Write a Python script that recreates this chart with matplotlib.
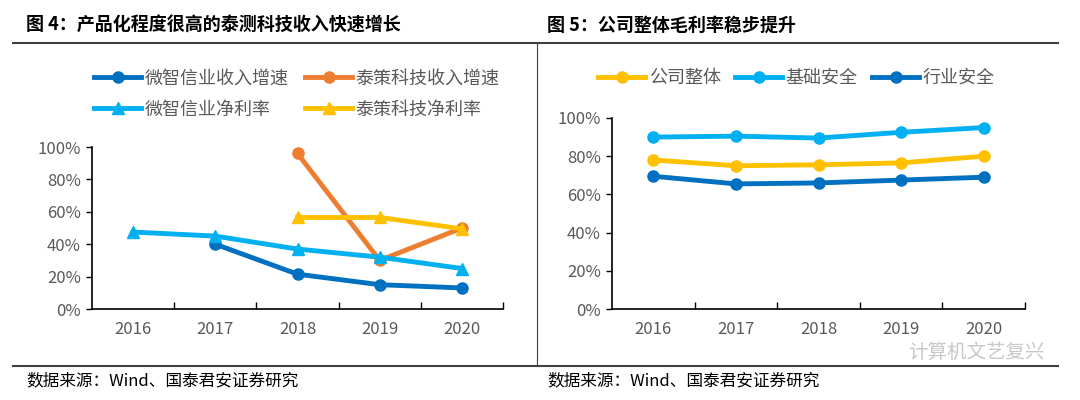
import numpy as np
import matplotlib.pyplot as plt
from matplotlib.lines import Line2D

plt.rcParams['font.family'] = ['Noto Sans CJK SC', 'DejaVu Sans']

years = ['2016', '2017', '2018', '2019', '2020']
nan = np.nan

# left chart (图4)
wz_rev = [nan, 0.40, 0.215, 0.15, 0.13]
tc_rev = [nan, nan, 0.96, 0.30, 0.50]
wz_margin = [0.475, 0.45, 0.37, 0.32, 0.25]
tc_margin = [nan, nan, 0.565, 0.565, 0.495]

# right chart (图5)
company = [0.78, 0.75, 0.755, 0.765, 0.80]
basic_sec = [0.90, 0.905, 0.895, 0.925, 0.95]
industry_sec = [0.695, 0.655, 0.66, 0.675, 0.69]

DARK = '#0070C0'
ORANGE = '#ED7D31'
LIGHT = '#00B0F0'
GOLD = '#FFC000'
GRAY = '#595959'

W, H = 1080, 400
fig = plt.figure(figsize=(10.8, 4.0), dpi=100)


def px_axes(x0, y_top, x1, y_bot):
    return fig.add_axes([x0 / W, 1 - y_bot / H, (x1 - x0) / W, (y_bot - y_top) / H])


def style_axes(ax):
    x = np.arange(len(years))
    ax.set_xlim(-0.5, len(years) - 0.5)
    ax.set_ylim(0, 1)
    ax.set_yticks(np.arange(0, 1.01, 0.2))
    ax.set_yticklabels(['%d%%' % round(v * 100) for v in np.arange(0, 1.01, 0.2)])
    ax.set_xticks(x + 0.5)
    ax.set_xticklabels([])
    ax.set_xticks(x, minor=True)
    ax.set_xticklabels(years, minor=True)
    ax.tick_params(axis='x', which='major', direction='in', length=5, width=1)
    ax.tick_params(axis='x', which='minor', length=0, pad=9, labelsize=12, labelcolor=GRAY)
    ax.tick_params(axis='y', direction='out', length=4, width=1, labelsize=12, labelcolor=GRAY, pad=4)
    for s in ['top', 'right']:
        ax.spines[s].set_visible(False)
    for s in ['left', 'bottom']:
        ax.spines[s].set_linewidth(1.2)
        ax.spines[s].set_color('black')
    ax.patch.set_alpha(0)


x = np.arange(len(years))
lw = 3.5

# left chart
ax1 = px_axes(92, 147, 503, 309)
l1, = ax1.plot(x, wz_rev, color=DARK, lw=lw, marker='o', ms=8)
l2, = ax1.plot(x, tc_rev, color=ORANGE, lw=lw, marker='o', ms=8)
l3, = ax1.plot(x, wz_margin, color=LIGHT, lw=lw, marker='^', ms=9)
l4, = ax1.plot(x, tc_margin, color=GOLD, lw=lw, marker='^', ms=9)
style_axes(ax1)
# legend fills column-wise, so order handles to get rows (l1 l2) / (l3 l4)
fig.legend([l1, l3, l2, l4],
           ['微智信业收入增速', '微智信业净利率', '泰策科技收入增速', '泰策科技净利率'],
           ncol=2, loc='center left', bbox_to_anchor=(78 / W, 1 - 94 / H),
           frameon=False, fontsize=13, handlelength=2.6, columnspacing=0.9,
           handletextpad=0.2, labelspacing=0.75, labelcolor=GRAY)

# right chart
ax2 = px_axes(612, 118, 1025, 309)
r1, = ax2.plot(x, company, color=GOLD, lw=lw, marker='o', ms=8)
r2, = ax2.plot(x, basic_sec, color=LIGHT, lw=lw, marker='o', ms=8)
r3, = ax2.plot(x, industry_sec, color=DARK, lw=lw, marker='o', ms=8)
style_axes(ax2)
fig.legend([r1, r2, r3], ['公司整体', '基础安全', '行业安全'],
           ncol=3, loc='center left', bbox_to_anchor=(582 / W, 1 - 78 / H),
           frameon=False, fontsize=13, handlelength=2.6, columnspacing=0.8,
           handletextpad=0.2, labelcolor=GRAY)

# frame lines
fig.add_artist(Line2D([13 / W, 1058 / W], [1 - 43 / H] * 2, color='#404040', lw=1.5))
fig.add_artist(Line2D([13 / W, 1058 / W], [1 - 366 / H] * 2, color='#404040', lw=1.5))
fig.add_artist(Line2D([537 / W] * 2, [1 - 43 / H, 1 - 366 / H], color='#404040', lw=0.8))

# titles and sources
fig.text(26 / W, 1 - 25 / H, '图 4：产品化程度很高的泰测科技收入快速增长',
         fontsize=13, fontweight='bold', va='center', ha='left')
fig.text(547 / W, 1 - 25 / H, '图 5：公司整体毛利率稳步提升',
         fontsize=13, fontweight='bold', va='center', ha='left')
fig.text(26 / W, 1 - 381 / H, '数据来源：Wind、国泰君安证券研究',
         fontsize=12, va='center', ha='left')
fig.text(547 / W, 1 - 381 / H, '数据来源：Wind、国泰君安证券研究',
         fontsize=12, va='center', ha='left')
fig.text(1045 / W, 1 - 352 / H, '计算机文艺复兴', fontsize=14, color='#c8c8c8',
         va='center', ha='right')

fig.savefig('out.png', dpi=100)
